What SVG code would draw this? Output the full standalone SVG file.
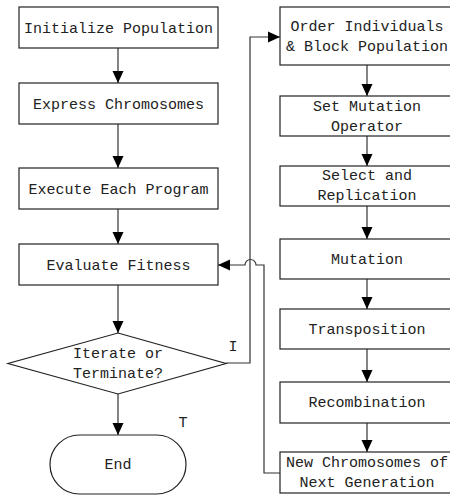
<svg xmlns="http://www.w3.org/2000/svg" width="450" height="495" viewBox="0 0 450 495">
<style>
.box{fill:#fff;stroke:#222;stroke-width:1.2}
.ln{fill:none;stroke:#333;stroke-width:1.2}
text{font-family:"Liberation Mono","DejaVu Sans Mono",monospace;font-size:15px;fill:#222;text-anchor:middle}
</style>
<defs>
<marker id="ah" markerWidth="12" markerHeight="12" viewBox="0 0 12 12" refX="12" refY="6" orient="auto" markerUnits="userSpaceOnUse">
<path d="M0,0.5 L12,6 L0,11.5 Z" fill="#000"/>
</marker>
</defs>
<rect width="450" height="495" fill="#fff"/>
<g id="connectors">
<line class="ln" x1="118" y1="48" x2="118" y2="83" marker-end="url(#ah)"/>
<line class="ln" x1="118" y1="124" x2="118" y2="168" marker-end="url(#ah)"/>
<line class="ln" x1="118" y1="209" x2="118" y2="244" marker-end="url(#ah)"/>
<line class="ln" x1="118" y1="285" x2="118" y2="333" marker-end="url(#ah)"/>
<line class="ln" x1="118" y1="394" x2="118" y2="435" marker-end="url(#ah)"/>
<polyline class="ln" points="226,363 250,363 250,37 280,37" marker-end="url(#ah)"/>
<line class="ln" x1="367" y1="65" x2="367" y2="96" marker-end="url(#ah)"/>
<line class="ln" x1="367" y1="136" x2="367" y2="166" marker-end="url(#ah)"/>
<line class="ln" x1="367" y1="206" x2="367" y2="239" marker-end="url(#ah)"/>
<line class="ln" x1="367" y1="279" x2="367" y2="309" marker-end="url(#ah)"/>
<line class="ln" x1="367" y1="349" x2="367" y2="382" marker-end="url(#ah)"/>
<line class="ln" x1="367" y1="423" x2="367" y2="452" marker-end="url(#ah)"/>
<path class="ln" d="M280,473 H264 V265 H256 A5.5,5.5 0 0 0 245,265 H218" marker-end="url(#ah)"/>
<text x="233" y="351" style="text-anchor:middle">I</text>
<text x="183" y="427">T</text>
</g>
<g id="n1"><rect class="box" x="19" y="7" width="199" height="41"/><text x="118.5" y="32.5">Initialize Population</text></g>
<g id="n2"><rect class="box" x="19" y="83" width="199" height="41"/><text x="118.5" y="108.5">Express Chromosomes</text></g>
<g id="n3"><rect class="box" x="19" y="168" width="199" height="41"/><text x="118.5" y="193.5">Execute Each Program</text></g>
<g id="n4"><rect class="box" x="19" y="244" width="199" height="41"/><text x="118.5" y="269.5">Evaluate Fitness</text></g>
<g id="n5"><polygon class="box" points="118,333 226,363.5 118,394 8,363.5"/><text x="118" y="358">Iterate or</text><text x="118" y="378">Terminate?</text></g>
<g id="n6"><rect class="box" x="50" y="435" width="136" height="59" rx="29.5" ry="29.5"/><text x="118" y="469">End</text></g>
<g id="r1"><rect class="box" x="280" y="7" width="180" height="58"/><text x="367" y="31">Order Individuals</text><text x="367" y="51">&amp; Block Population</text></g>
<g id="r2"><rect class="box" x="280" y="96" width="180" height="40"/><text x="367" y="111">Set Mutation</text><text x="367" y="131">Operator</text></g>
<g id="r3"><rect class="box" x="280" y="166" width="180" height="40"/><text x="367" y="180">Select and</text><text x="367" y="200">Replication</text></g>
<g id="r4"><rect class="box" x="280" y="239" width="180" height="40"/><text x="367" y="264">Mutation</text></g>
<g id="r5"><rect class="box" x="280" y="309" width="180" height="40"/><text x="367" y="334">Transposition</text></g>
<g id="r6"><rect class="box" x="280" y="382" width="180" height="41"/><text x="367" y="407">Recombination</text></g>
<g id="r7"><rect class="box" x="280" y="452" width="180" height="41"/><text x="367" y="467">New Chromosomes of</text><text x="367" y="487">Next Generation</text></g>
</svg>
